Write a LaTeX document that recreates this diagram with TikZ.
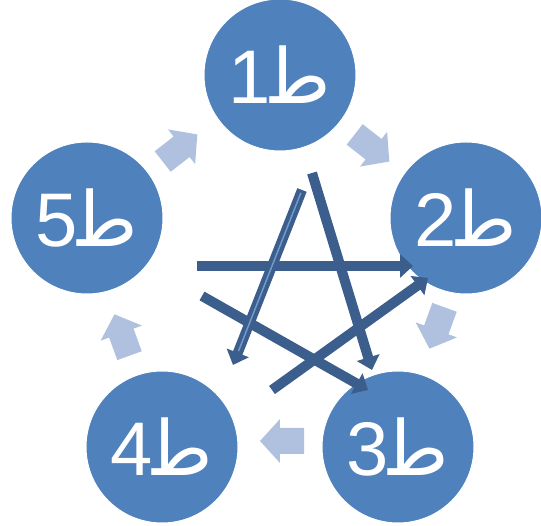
\documentclass[tikz,border=0pt]{standalone}
\usepackage{fontspec}
\setmainfont{Liberation Sans}
\newfontfamily\arabicfont[Script=Arabic]{DejaVu Sans}
\TeXXeTstate=1
\usetikzlibrary{arrows.meta}
\definecolor{circblue}{HTML}{4F81BD}
\definecolor{stardark}{HTML}{3B5E8C}
\definecolor{steplight}{HTML}{AFC1DF}
\newcommand{\tlabel}[1]{\beginR{\arabicfont\char"FEC3}#1\endR}

\begin{document}
\begin{tikzpicture}[x=1pt, y=1pt,
    stage/.style={circle, fill=circblue, draw=white, line width=1pt, minimum size=152pt,
                  inner sep=0pt, text=white, font=\fontsize{76}{80}\selectfont},
    cycarrow/.style={fill=steplight, draw=none},
    starrow/.style={-{Triangle[width=23pt,length=13pt]}, line width=10pt, draw=stardark}
]
\useasboundingbox (-279,-245) rectangle (262,281);
% light arrows round the cycle
\foreach \px/\py/\r in {93/133/-38, 158/-47/-110, 3/-160/180, -157/-54/110, -99/133/38}{
  \fill[cycarrow, shift={(\px,\py)}, rotate=\r]
    (-22,-13) -- (2,-13) -- (2,-22) -- (22,0) -- (2,22) -- (2,13) -- (-22,13) -- cycle;
}
% stages
\node[stage] (s1) at (1,206)    {\tlabel{1}};
\node[stage] (s2) at (187,63)   {\tlabel{2}};
\node[stage] (s3) at (119,-166) {\tlabel{3}};
\node[stage] (s4) at (-117,-166){\tlabel{4}};
\node[stage] (s5) at (-192,63)  {\tlabel{5}};
% star
\coordinate (a0) at (-82,15);  \coordinate (a1) at (134,15);
\coordinate (b0) at (33,108);  \coordinate (b1) at (93,-89);
\coordinate (e0) at (-77,-15); \coordinate (e1) at (89,-109);
\coordinate (d0) at (23,91);   \coordinate (d1) at (-46,-84);
\coordinate (f0) at (-7,-109); \coordinate (f1) at (149,3);
\draw[starrow] (a0) -- (a1);
\draw[starrow] (b0) -- (b1);
\draw[starrow] (e0) -- (e1);
\draw[starrow] (d0) -- (d1);
\draw[circblue!80!white, line width=1.5pt, shorten >=15pt, shorten <=3pt] (d0) -- (d1);
\draw[starrow] (f0) -- (f1);
\end{tikzpicture}
\end{document}
